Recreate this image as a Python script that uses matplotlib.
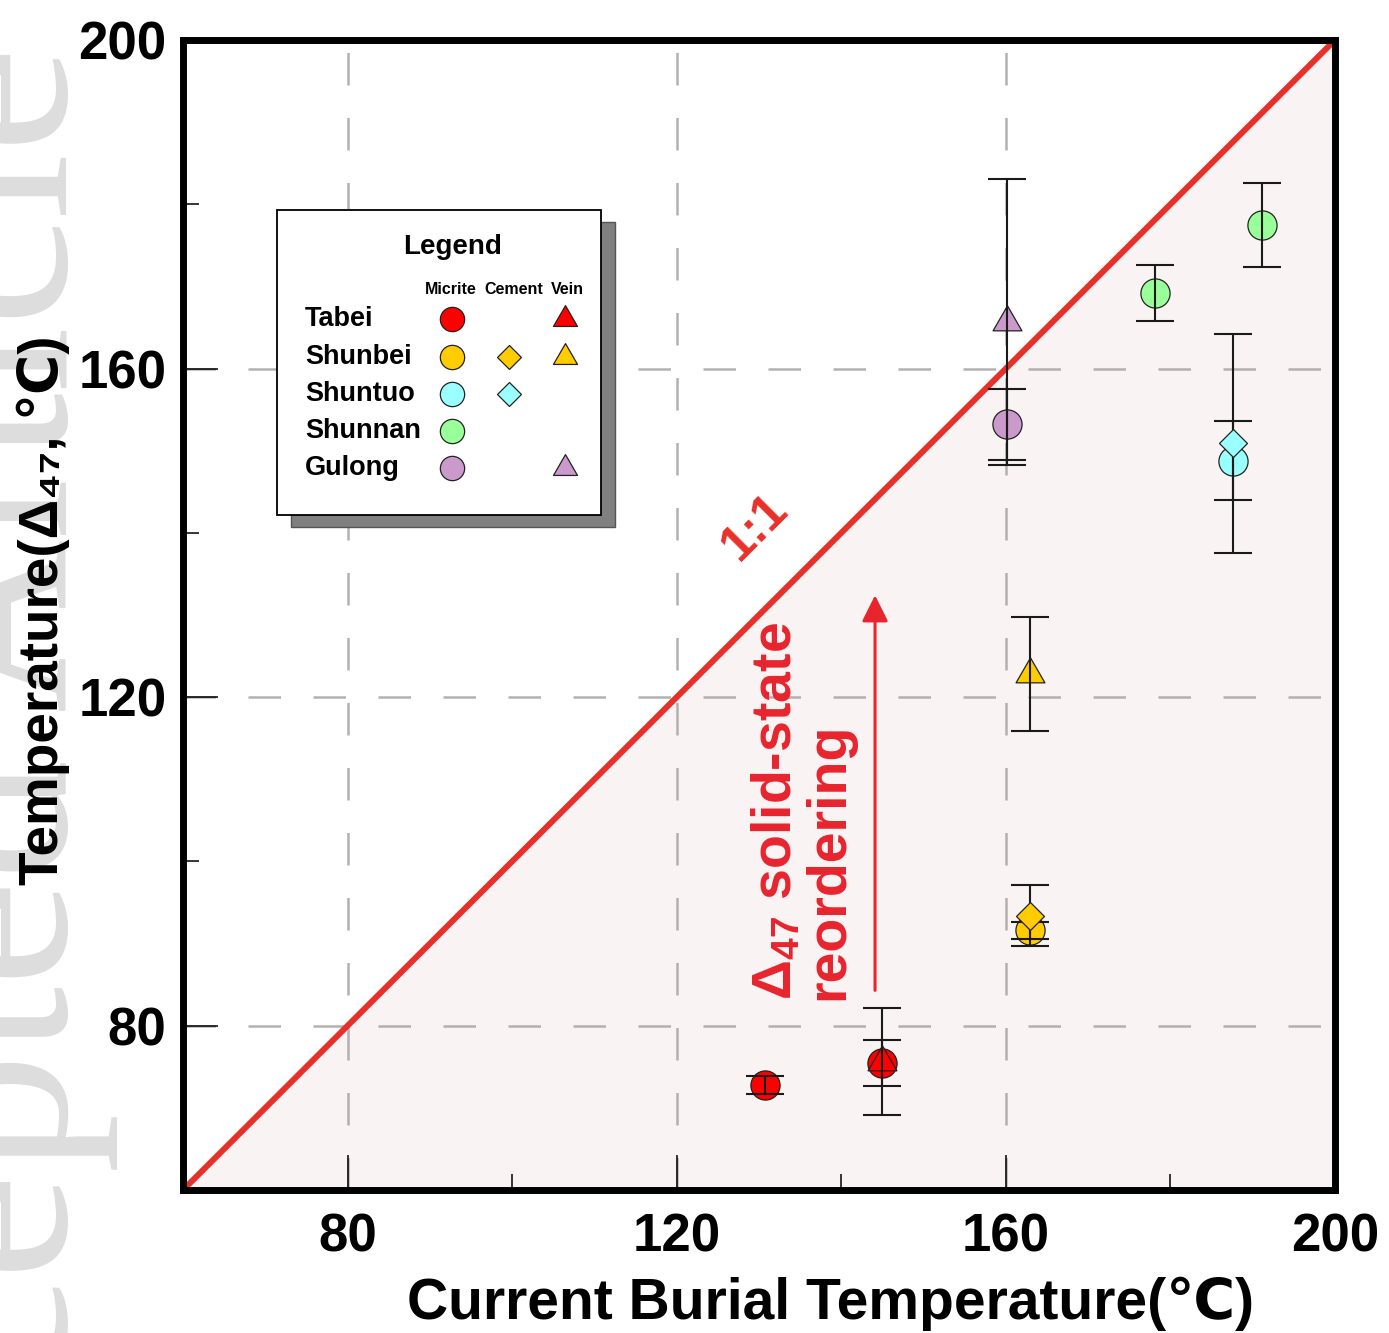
import matplotlib
matplotlib.use("Agg")
import matplotlib.pyplot as plt
from matplotlib.patches import Rectangle
from matplotlib.path import Path

# ---------------------------------------------------------------------------
# data
# ---------------------------------------------------------------------------
sites = ['Tabei', 'Shunbei', 'Shuntuo', 'Shunnan', 'Gulong']
site_colors = ['#ff0000', '#ffcc00', '#99ffff', '#99ff99', '#cc99cc']

# micrite (circles)
micrite_site = ['Tabei', 'Tabei', 'Shunbei', 'Shuntuo', 'Shunnan', 'Shunnan', 'Gulong']
micrite_x = [130.7, 144.9, 162.9, 187.6, 178.1, 191.1, 160.1]
micrite_y = [72.8, 75.5, 91.6, 148.8, 169.2, 177.5, 153.2]
micrite_err = [1.1, 2.8, 1.0, 4.8, 3.35, 5.1, 4.3]

# cement (diamonds)
cement_site = ['Shunbei', 'Shuntuo']
cement_x = [162.9, 187.6]
cement_y = [93.4, 150.9]
cement_err = [3.7, 13.3]

# vein (triangles)
vein_site = ['Tabei', 'Shunbei', 'Gulong']
vein_x = [144.9, 162.9, 160.1]
vein_y = [75.6, 122.8, 165.7]
vein_err = [6.5, 6.9, 17.4]

axis_ticks = [80, 120, 160, 200]
minor_ticks = [100, 140, 180]

RED = '#e8302a'
TXT_RED = '#e8242d'
FONT = ['Liberation Sans', 'DejaVu Sans']

plt.rcParams['font.family'] = FONT
plt.rcParams['font.weight'] = 'bold'
plt.rcParams['mathtext.fontset'] = 'custom'
plt.rcParams['mathtext.rm'] = 'Liberation Sans:bold'
plt.rcParams['mathtext.default'] = 'rm'

color_of = dict(zip(sites, site_colors))

# equilateral triangle centred on its centroid
tri = Path([(0, 1), (-0.866, -0.5), (0.866, -0.5), (0, 1)],
           [Path.MOVETO, Path.LINETO, Path.LINETO, Path.CLOSEPOLY])

fig = plt.figure(figsize=(13.89, 13.33), dpi=100)
ax = fig.add_axes([0.1318, 0.1073, 0.8293, 0.8627])

# watermark
fig.text(0.048, -0.25, 'Accepted Article', rotation=90, rotation_mode='anchor',
         ha='left', va='baseline', fontsize=173, family='Liberation Serif',
         fontweight='normal', color='#dddddd', zorder=-5)

ax.set_xlim(60, 200)
ax.set_ylim(60, 200)
ax.patch.set_alpha(0)

# shaded area below 1:1
ax.fill_between([60, 200], [60, 60], [60, 200], color='#f9f3f3', lw=0, zorder=0.1)
ax.plot([60, 200], [60, 200], color=RED, lw=4.3, zorder=2, solid_capstyle='butt')

ax.set_xticks(axis_ticks)
ax.set_yticks(axis_ticks)
ax.set_xticks(minor_ticks, minor=True)
ax.set_yticks(minor_ticks, minor=True)
ax.tick_params(which='major', direction='in', length=25, width=1.1,
               labelsize=38, pad=16)
ax.tick_params(axis='y', which='major', pad=12)
ax.tick_params(which='minor', direction='in', length=11.5, width=1.1)
for lab in ax.get_xticklabels() + ax.get_yticklabels():
    lab.set_fontweight('bold')

ax.set_axisbelow(True)
ax.grid(True, which='major', color='#b4b0b0', lw=1.8, linestyle=(0, (13, 13)))

for s in ax.spines.values():
    s.set_linewidth(5)
    s.set_zorder(10)

# micrite circles + errorbars
for site, x, y, e in zip(micrite_site, micrite_x, micrite_y, micrite_err):
    ax.plot(x, y, 'o', ms=21, mfc=color_of[site], mec='#222222', mew=0.9, zorder=3)
    ax.errorbar(x, y, yerr=e, fmt='none', ecolor='#1a1a1a', elinewidth=1.5,
                capsize=14, capthick=1.5, zorder=4)

for site, x, y, e in zip(vein_site, vein_x, vein_y, vein_err):
    ax.plot(x, y, marker=tri, ls='none', ms=24, mfc=color_of[site], mec='#222222',
            mew=0.9, zorder=3)
    ax.errorbar(x, y, yerr=e, fmt='none', ecolor='#1a1a1a', elinewidth=1.5,
                capsize=14, capthick=1.5, zorder=4)

for site, x, y, e in zip(cement_site, cement_x, cement_y, cement_err):
    ax.errorbar(x, y, yerr=e, fmt='none', ecolor='#1a1a1a', elinewidth=1.5,
                capsize=14, capthick=1.5, zorder=4)
    ax.plot(x, y, 'D', ms=14.5, mfc=color_of[site], mec='#222222', mew=0.9, zorder=5)

# annotations
ax.text(129.5, 140.7, '1:1', rotation=45, ha='center', va='center',
        fontsize=36, color=RED, fontweight='bold')
ax.annotate('', xy=(144.1, 132.4), xytext=(144.1, 84.3),
            arrowprops=dict(arrowstyle='-|>', color=TXT_RED, lw=2.2,
                            mutation_scale=40, shrinkA=0, shrinkB=0))
ax.text(135.3, 83.1, 'Δ$_{47}$ solid-state\nreordering', rotation=90,
        ha='center', va='bottom', multialignment='left', linespacing=1.0,
        fontsize=40, color=TXT_RED, fontweight='bold')

ax.set_xlabel('Current Burial Temperature(℃)', fontsize=41, fontweight='bold')
ax.xaxis.set_label_coords(0.5625, -0.075)
ax.set_ylabel('Temperature(Δ₄₇, ℃)', fontsize=39.5, fontweight='bold')
ax.yaxis.set_label_coords(-0.098, 0.504)

# legend box drawn by hand
lg = fig.add_axes([0.1994, 0.6137, 0.2333, 0.2288], zorder=5)
lg.set_xlim(0, 1)
lg.set_ylim(0, 1)
lg.axis('off')
lg.add_patch(Rectangle((0.0432, -0.0393), 1, 1, facecolor='#808080',
                       edgecolor='#555555', lw=1, clip_on=False, zorder=0))
lg.add_patch(Rectangle((0, 0), 1, 1, facecolor='white', edgecolor='black',
                       lw=1.3, clip_on=False, zorder=1))
lg.text(0.543, 0.879, 'Legend', ha='center', va='center', fontsize=20, fontweight='bold')
for hx, h in zip([0.537, 0.731, 0.895], ['Micrite', 'Cement', 'Vein']):
    lg.text(hx, 0.738, h, ha='center', va='center', fontsize=11.5, fontweight='bold')

row_y = [0.643, 0.518, 0.397, 0.275, 0.154]
for site, ry in zip(sites, row_y):
    c = color_of[site]
    lg.text(0.086, ry, site, ha='left', va='center', fontsize=19.5, fontweight='bold')
    if site in micrite_site:
        lg.plot(0.540, ry, 'o', ms=17.5, mfc=c, mec='#222222', mew=0.9, zorder=3)
    if site in cement_site:
        lg.plot(0.716, ry, 'D', ms=12.3, mfc=c, mec='#222222', mew=0.9, zorder=3)
    if site in vein_site:
        lg.plot(0.889, ry, marker=tri, ls='none', ms=20, mfc=c, mec='#222222',
                mew=0.9, zorder=3)

fig.savefig('out.png', dpi=100)
